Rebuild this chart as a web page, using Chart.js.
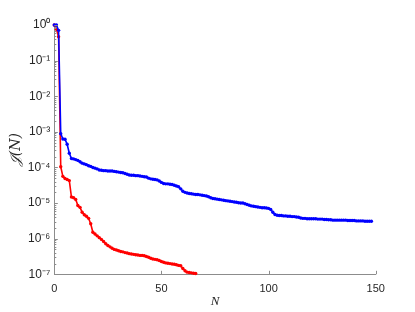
<!DOCTYPE html>
<html>
<head>
<meta charset="utf-8">
<script src="https://cdn.jsdelivr.net/npm/chart.js@4/dist/chart.umd.min.js"></script>
<style>
html,body{margin:0;padding:0;background:#fff;}
canvas{display:block;}
</style>
</head>
<body>
<canvas id="c" width="415" height="312"></canvas>
<script>
// Blue series: J(N) for N = 0..148
const blueValues = [
  1, 1, 0.708, 8.91e-4, 6.31e-4, 6.17e-4, 4.47e-4, 2.51e-4, 1.78e-4, 1.74e-4,
  1.66e-4, 1.58e-4, 1.45e-4, 1.32e-4, 1.26e-4, 1.20e-4, 1.12e-4, 1.07e-4, 1.00e-4, 9.55e-5,
  9.12e-5, 8.51e-5, 8.32e-5, 8.13e-5, 8.13e-5, 7.94e-5, 7.94e-5, 7.94e-5, 7.76e-5, 7.59e-5,
  7.41e-5, 7.24e-5, 7.08e-5, 6.76e-5, 6.46e-5, 6.17e-5, 6.03e-5, 6.03e-5, 5.89e-5, 5.89e-5,
  5.75e-5, 5.62e-5, 5.50e-5, 5.37e-5, 5.01e-5, 4.79e-5, 4.68e-5, 4.57e-5, 4.47e-5, 4.17e-5,
  3.80e-5, 3.55e-5, 3.47e-5, 3.47e-5, 3.39e-5, 3.31e-5, 3.16e-5, 3.02e-5, 2.88e-5, 2.51e-5,
  2.14e-5, 2.00e-5, 1.91e-5, 1.86e-5, 1.82e-5, 1.78e-5, 1.74e-5, 1.74e-5, 1.70e-5, 1.66e-5,
  1.62e-5, 1.58e-5, 1.51e-5, 1.41e-5, 1.35e-5, 1.32e-5, 1.29e-5, 1.26e-5, 1.23e-5, 1.20e-5,
  1.17e-5, 1.15e-5, 1.12e-5, 1.10e-5, 1.07e-5, 1.05e-5, 1.02e-5, 1.00e-5, 1.00e-5, 9.55e-6,
  9.12e-6, 8.71e-6, 8.32e-6, 8.13e-6, 7.94e-6, 7.76e-6, 7.59e-6, 7.41e-6, 7.41e-6, 7.24e-6,
  7.08e-6, 6.61e-6, 5.50e-6, 4.79e-6, 4.57e-6, 4.47e-6, 4.47e-6, 4.37e-6, 4.37e-6, 4.27e-6,
  4.27e-6, 4.17e-6, 4.17e-6, 4.07e-6, 3.98e-6, 3.80e-6, 3.72e-6, 3.72e-6, 3.63e-6, 3.63e-6,
  3.63e-6, 3.63e-6, 3.63e-6, 3.55e-6, 3.55e-6, 3.55e-6, 3.47e-6, 3.47e-6, 3.39e-6, 3.39e-6,
  3.31e-6, 3.31e-6, 3.31e-6, 3.31e-6, 3.31e-6, 3.31e-6, 3.31e-6, 3.24e-6, 3.24e-6, 3.24e-6,
  3.24e-6, 3.16e-6, 3.16e-6, 3.16e-6, 3.16e-6, 3.09e-6, 3.09e-6, 3.09e-6, 3.09e-6
];
// Red series: J(N) for N = 0..66
const redValues = [
  1, 0.759, 0.468, 1.05e-4, 5.62e-5, 4.90e-5, 4.57e-5, 4.27e-5, 1.48e-5, 1.41e-5,
  1.26e-5, 8.51e-6, 7.59e-6, 5.50e-6, 4.68e-6, 4.27e-6, 3.72e-6, 2.63e-6, 1.51e-6, 1.35e-6,
  1.20e-6, 1.07e-6, 9.55e-7, 8.32e-7, 7.24e-7, 6.46e-7, 5.89e-7, 5.37e-7, 5.01e-7, 4.79e-7,
  4.57e-7, 4.37e-7, 4.27e-7, 4.07e-7, 3.98e-7, 3.80e-7, 3.72e-7, 3.63e-7, 3.55e-7, 3.47e-7,
  3.39e-7, 3.39e-7, 3.31e-7, 3.16e-7, 3.02e-7, 2.82e-7, 2.69e-7, 2.63e-7, 2.57e-7, 2.45e-7,
  2.29e-7, 2.19e-7, 2.09e-7, 2.04e-7, 2.00e-7, 1.95e-7, 1.91e-7, 1.86e-7, 1.78e-7, 1.74e-7,
  1.45e-7, 1.26e-7, 1.15e-7, 1.12e-7, 1.10e-7, 1.07e-7, 1.05e-7
];
const xTicks = [0, 50, 100, 150];
const yTicks = [1e-7, 1e-6, 1e-5, 1e-4, 1e-3, 1e-2, 1e-1, 1];
const yTickLabels = ['10⁻⁷', '10⁻⁶', '10⁻⁵', '10⁻⁴', '10⁻³', '10⁻²', '10⁻¹', '10⁰'];
const xTitle = 'N';
const yTitle = '𝒥(N)';

const AXIS_COLOR = '#8c8c8c';
const TEXT_COLOR = '#262626';

const inwardTicks = {
  id: 'inwardTicks',
  afterDraw(chart) {
    const ctx = chart.ctx;
    const xs = chart.scales.x, ys = chart.scales.y;
    const left = chart.chartArea.left, bottom = chart.chartArea.bottom;
    ctx.save();
    ctx.strokeStyle = AXIS_COLOR;
    ctx.lineWidth = 1;
    ctx.beginPath();
    xTicks.forEach(v => {
      const px = Math.round(xs.getPixelForValue(v)) + 0.5;
      ctx.moveTo(px, bottom);
      ctx.lineTo(px, bottom - 3.5);
    });
    yTicks.forEach((v, i) => {
      const py = Math.round(ys.getPixelForValue(v)) + 0.5;
      ctx.moveTo(left, py);
      ctx.lineTo(left + 3.5, py);
      if (i < yTicks.length - 1) {
        for (let m = 2; m <= 9; m++) {
          const pm = Math.round(ys.getPixelForValue(v * m)) + 0.5;
          ctx.moveTo(left, pm);
          ctx.lineTo(left + 2, pm);
        }
      }
    });
    ctx.stroke();
    ctx.restore();
  }
};

new Chart(document.getElementById('c'), {
  type: 'line',
  data: {
    datasets: [
      {
        data: blueValues.map((v, i) => ({x: i, y: v})),
        borderColor: '#0000ff',
        backgroundColor: '#0000ff',
        borderWidth: 1.6,
        pointRadius: 1.7,
        pointBorderWidth: 0,
        pointBackgroundColor: '#0000ff',
        tension: 0,
        clip: false
      },
      {
        data: redValues.map((v, i) => ({x: i, y: v})),
        borderColor: '#ff0000',
        backgroundColor: '#ff0000',
        borderWidth: 1.6,
        pointRadius: 1.7,
        pointBorderWidth: 0,
        pointBackgroundColor: '#ff0000',
        tension: 0,
        clip: false
      }
    ]
  },
  options: {
    responsive: false,
    animation: false,
    devicePixelRatio: 1,
    layout: { padding: { left: 0, top: 25, right: 39.3, bottom: 0 } },
    plugins: { legend: { display: false }, tooltip: { enabled: false } },
    scales: {
      x: {
        type: 'linear',
        min: 0, max: 150,
        afterBuildTicks: s => { s.ticks = xTicks.map(v => ({value: v})); },
        afterFit: s => { s.height = 37.7; },
        grid: { display: true, drawOnChartArea: false, drawTicks: false },
        border: { display: true, color: AXIS_COLOR, width: 1 },
        ticks: {
          padding: 8,
          color: TEXT_COLOR,
          font: { family: 'Liberation Sans', size: 11 },
          maxRotation: 0,
          callback: v => String(v)
        },
        title: {
          display: true,
          text: xTitle,
          color: TEXT_COLOR,
          font: { family: 'Liberation Serif', size: 13, style: 'italic' },
          padding: { top: 0, bottom: 2.5 }
        }
      },
      y: {
        type: 'logarithmic',
        min: 1e-7, max: 1,
        afterBuildTicks: s => { s.ticks = yTicks.map(v => ({value: v})); },
        afterFit: s => { s.width = 54.3; },
        grid: { display: true, drawOnChartArea: false, drawTicks: false },
        border: { display: true, color: AXIS_COLOR, width: 1 },
        ticks: {
          padding: 4,
          color: TEXT_COLOR,
          font: { family: 'Liberation Sans', size: 12 },
          callback: (v) => {
            const i = yTicks.findIndex(t => Math.abs(Math.log10(t) - Math.log10(v)) < 1e-6);
            return i >= 0 ? yTickLabels[i] : '';
          }
        },
        title: {
          display: true,
          text: yTitle,
          color: TEXT_COLOR,
          font: { family: 'DejaVu Serif', size: 14, style: 'italic' },
          padding: { top: 8, bottom: 0 }
        }
      }
    }
  },
  plugins: [inwardTicks]
});
</script>
</body>
</html>
